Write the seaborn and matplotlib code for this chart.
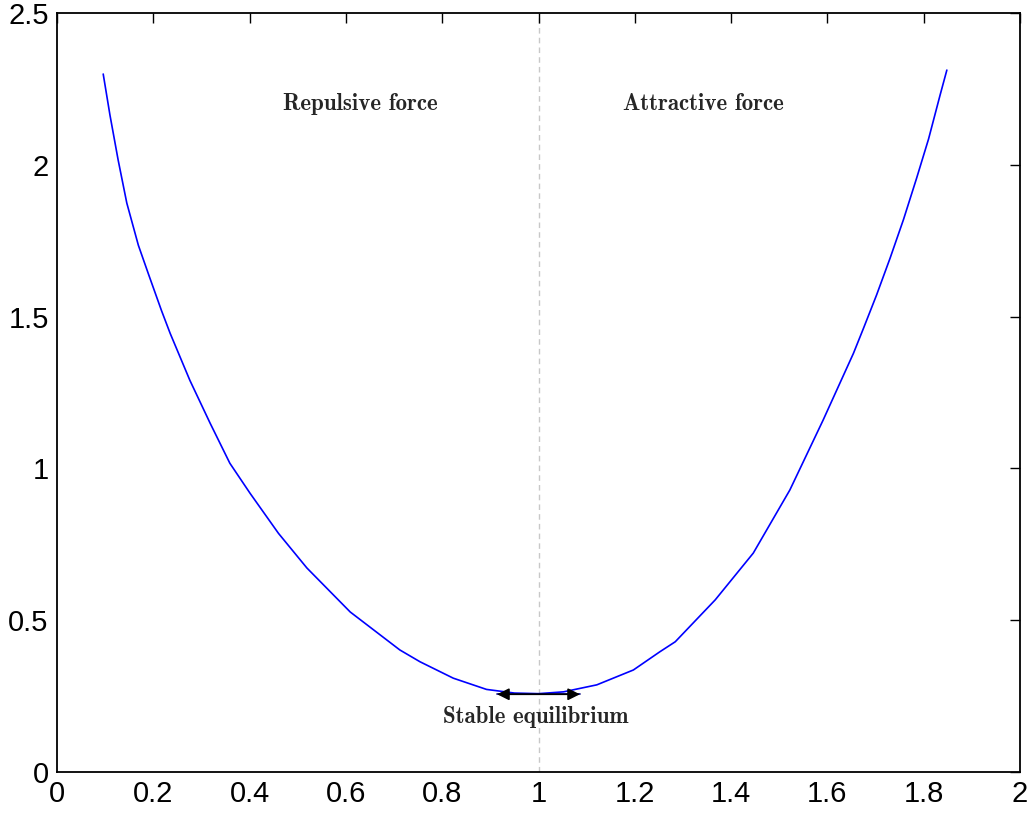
import numpy as np
import pandas as pd
import matplotlib
matplotlib.use("Agg")
import matplotlib.pyplot as plt
import seaborn as sns

# curve
x_vals = [0.096, 0.110, 0.127, 0.145, 0.169, 0.190, 0.217, 0.235, 0.276, 0.318, 0.359, 0.401,
          0.460, 0.519, 0.609, 0.712, 0.754, 0.823, 0.892, 0.950, 1.000, 1.052, 1.121, 1.197,
          1.252, 1.284, 1.367, 1.446, 1.522, 1.591, 1.654, 1.675, 1.702, 1.730, 1.758, 1.785,
          1.810, 1.834, 1.848]
y_vals = [2.299, 2.164, 2.016, 1.874, 1.735, 1.640, 1.520, 1.445, 1.290, 1.149, 1.017, 0.918,
          0.786, 0.672, 0.527, 0.402, 0.363, 0.309, 0.272, 0.260, 0.258, 0.264, 0.287, 0.336,
          0.396, 0.429, 0.567, 0.721, 0.929, 1.159, 1.379, 1.462, 1.571, 1.692, 1.820, 1.955,
          2.085, 2.230, 2.312]

x_ticks = [0, 0.2, 0.4, 0.6, 0.8, 1, 1.2, 1.4, 1.6, 1.8, 2]
x_labels = ["0", "0.2", "0.4", "0.6", "0.8", "1", "1.2", "1.4", "1.6", "1.8", "2"]
y_ticks = [0, 0.5, 1, 1.5, 2, 2.5]
y_labels = ["0", "0.5", "1", "1.5", "2", "2.5"]

eq_x = 1.0
eq_y = 0.256
arrow_span = [0.914, 1.086]

df = pd.DataFrame({"x": x_vals, "y": y_vals})

sns.set_style("white")
plt.rcParams["font.family"] = ["Liberation Sans", "DejaVu Sans"]

fig = plt.figure(figsize=(10.36, 8.19), dpi=100)
ax = fig.add_axes([0.055, 0.0574, 0.9296, 0.9267])

sns.lineplot(data=df, x="x", y="y", color="blue", lw=1.2, sort=False, ax=ax)
ax.axvline(eq_x, color="#c8c8c8", lw=1, ls=(0, (4, 3)), zorder=0)

ax.annotate("", xy=(arrow_span[0], eq_y), xytext=(arrow_span[1], eq_y),
            arrowprops=dict(arrowstyle="<|-|>", color="black", lw=1.2,
                            mutation_scale=18, shrinkA=0, shrinkB=0))
ax.plot(arrow_span, [eq_y, eq_y], color="navy", lw=1.2)

lbl = dict(family="cmb10", fontsize=16.5, ha="center", va="center")
ax.text(0.629, 2.20, "Repulsive force", **lbl)
ax.text(1.342, 2.20, "Attractive force", **lbl)
ax.text(0.995, 0.18, "Stable equilibrium", **lbl)

ax.set_xlim(0, 2)
ax.set_ylim(0, 2.5)
ax.set_xticks(x_ticks)
ax.set_xticklabels(x_labels)
ax.set_yticks(y_ticks)
ax.set_yticklabels(y_labels)
ax.set_xlabel("")
ax.set_ylabel("")
ax.tick_params(direction="in", length=7, width=1, top=True, right=True,
               labelsize=21, colors="black", pad=6)
for s in ax.spines.values():
    s.set_visible(True)
    s.set_color("black")
    s.set_linewidth(1.3)

fig.savefig("out.png", dpi=100)
